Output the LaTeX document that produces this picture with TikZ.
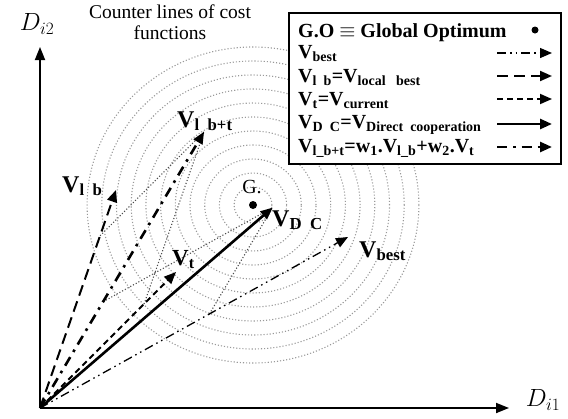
\documentclass[tikz,border=0pt]{standalone}
\usepackage{fontspec}
\setmainfont{Liberation Serif}
\usetikzlibrary{arrows.meta,calc}
\newcommand{\fsz}[1]{\fontsize{#1}{#1}\selectfont}

\begin{document}
\begin{tikzpicture}[x=1pt,y=-1pt,
    tip/.style={-{Triangle[length=12pt,width=10pt]}},
    axis/.style={line width=1.8pt,-{Triangle[length=13pt,width=10pt]}},
    ring/.style={gray!80,line width=1.1pt,dash pattern=on 1.1pt off 2pt},
    aux/.style={gray!60!black,line width=1.1pt,dash pattern=on 1.1pt off 2pt},
    vbest/.style={tip,line width=1.3pt,dash pattern=on 9pt off 4pt on 1.5pt off 4pt on 1.5pt off 4pt},
    vlb/.style={tip,line width=2pt,dash pattern=on 11pt off 6pt},
    vcur/.style={tip,line width=1.8pt,dash pattern=on 6pt off 4pt},
    vdc/.style={tip,line width=2.6pt},
    vlbt/.style={tip,line width=2.6pt,dash pattern=on 10pt off 6pt on 2.6pt off 6pt},
    lab/.style={inner sep=0pt,anchor=base west,font=\bfseries}]
  \useasboundingbox (0,0) rectangle (568,418);
  % contour rings round the optimum
  \node[circle,fill,inner sep=0pt,minimum size=8pt] (G) at (253,205) {};
  \foreach \k in {0,...,10}
    {\pgfmathsetmacro\rr{18+14*\k}
     \draw[ring] (G.center) ellipse [x radius={1.05*\rr pt}, y radius={\rr pt}];}
  \node[font=\fsz{20}] (Glab) at (252,187) {G.};
  % axes
  \coordinate (O) at (40,408);
  \coordinate (yend) at (40,47);
  \coordinate (xend) at (509,408);
  \draw[axis] (O) -- (yend);
  \draw[axis] (O) -- (xend);
  \node (ylab) at (37,24) {\fsz{27}$D_{i2}$};
  \node (xlab) at (543,400) {\fsz{27}$D_{i1}$};
  \node[align=center,font={\fontsize{19.5}{21}\selectfont}] (title) at (170,22)
    {Counter lines of cost\\functions};
  % vector tips and construction points
  \coordinate (Tbest) at (348,237);
  \coordinate (Tlb) at (116,190);
  \coordinate (Tt) at (176,272);
  \coordinate (A) at ($(O)!0.79!(Tlb)$);
  \coordinate (B) at ($(O)!0.765!(Tt)$);
  \coordinate (Tlbt) at ($(A)+(B)-(O)$);
  \coordinate (P) at ($(O)!0.385!(Tlbt)$);
  \coordinate (Q) at ($(O)!0.55!(Tbest)$);
  \coordinate (Tdc) at ($(P)+(Q)-(O)$);
  \draw[aux] (A) -- (Tlbt);
  \draw[aux] (B) -- (Tlbt);
  \draw[aux] (P) -- (Tdc);
  \draw[aux] (Q) -- (Tdc);
  \draw[vbest] (O) -- (Tbest);
  \draw[vlb] (O) -- (Tlb);
  \draw[vcur] (O) -- (Tt);
  \draw[vlbt] (O) -- (Tlbt);
  \draw[vdc] (O) -- (Tdc);
  \node[lab,font={\fsz{24}\bfseries}] (Llbt) at (177,127) {V\textsubscript{l\ \ b+t}};
  \node[lab,font={\fsz{24}\bfseries}] (Llb) at (62,192) {V\textsubscript{l\ \ b}};
  \node[lab,font={\fsz{23}\bfseries}] (Lt) at (172,265) {V\textsubscript{t}};
  \node[lab,font={\fsz{24}\bfseries}] (Ldc) at (272,226) {V\textsubscript{D\ \ C}};
  \node[lab,font={\fsz{24}\bfseries}] (Lbest) at (359,257) {V\textsubscript{best}};
  % legend
  \node[draw,fill=white,line width=1.5pt,anchor=north west,inner sep=0pt,
    minimum width=272pt,minimum height=151pt] (leg) at (288,12) {};
  \node[lab,font={\fsz{20}\bfseries}] (k0) at (298,37) {G.O $\equiv$ Global Optimum};
  \node[circle,fill,inner sep=0pt,minimum size=7pt] (kdot) at (535,30) {};
  \node[lab,font={\fsz{20}\bfseries}] (k1) at (298,58) {V\textsubscript{best}};
  \node[lab,font={\fsz{20}\bfseries}] (k2) at (298,82) {V\textsubscript{l\ \ b}=V\textsubscript{local\ \ \ best}};
  \node[lab,font={\fsz{20}\bfseries}] (k3) at (298,105) {V\textsubscript{t}=V\textsubscript{current}};
  \node[lab,font={\fsz{20}\bfseries}] (k4) at (298,128) {V\textsubscript{D\ \ C}=V\textsubscript{Direct\ \ cooperation}};
  \node[lab,font={\fsz{20}\bfseries}] (k5) at (298,152)
    {V\textsubscript{l\_b+t}=w\textsubscript{1}.V\textsubscript{l\_b}+w\textsubscript{2}.V\textsubscript{t}};
  \foreach \y/\st [count=\i] in {53/vbest,76/vlb,99/vcur,124/vdc,147/vlbt}
    {\coordinate (ls\i) at (497,\y);
     \coordinate (le\i) at (552,\y);
     \draw[\st] (ls\i) -- (le\i);}
\end{tikzpicture}
\end{document}
